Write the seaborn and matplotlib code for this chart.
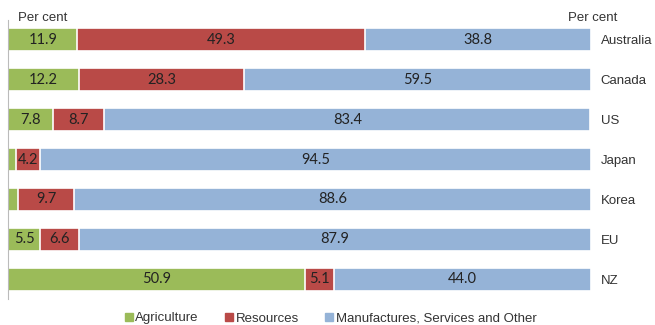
import matplotlib
matplotlib.use("Agg")
import matplotlib.pyplot as plt
import matplotlib.patches as mpatches
import seaborn as sns
import numpy as np
import pandas as pd

countries = ["Australia", "Canada", "US", "Japan", "Korea", "EU", "NZ"]
agriculture = [11.9, 12.2, 7.8, 1.3, 1.7, 5.5, 50.9]
resources = [49.3, 28.3, 8.7, 4.2, 9.7, 6.6, 5.1]
manufactures = [38.8, 59.5, 83.4, 94.5, 88.6, 87.9, 44.0]
series_names = ["Agriculture", "Resources", "Manufactures, Services and Other"]
colors = ["#9BBB59", "#B94A47", "#95B3D7"]

sns.set_theme(style="white")
plt.rcParams["font.family"] = ["Liberation Sans", "DejaVu Sans"]

df = pd.DataFrame({"country": countries, "agri": agriculture,
                   "res": resources, "man": manufactures})
df["c1"] = df["agri"]
df["c2"] = df["agri"] + df["res"]
df["c3"] = df["agri"] + df["res"] + df["man"]

fig = plt.figure(figsize=(6.55, 3.25), dpi=100)
ax = fig.add_axes([8/655, 1 - 299/325, 583/655, 279/325])

for col, c in zip(["c3", "c2", "c1"], colors[::-1]):
    sns.barplot(data=df, x=col, y="country", orient="h", color=c,
                width=0.58, edgecolor="white", linewidth=1.2,
                errorbar=None, saturation=1, ax=ax)

# value labels
for i, row in df.iterrows():
    starts = [0, row["c1"], row["c2"]]
    vals = [row["agri"], row["res"], row["man"]]
    for s, v in zip(starts, vals):
        if v >= 3:
            ax.text(s + v / 2, i, f"{v:.1f}", ha="center", va="center",
                    fontsize=10.5, color="#222222", family=["Lato", "DejaVu Sans"])

ax.set_xlim(0, 100)
ax.set_ylim(6.5, -0.5)
ax.set_xlabel("")
ax.set_ylabel("")
ax.set_xticks([])
ax.yaxis.tick_right()
ax.tick_params(axis="y", length=0, pad=7, labelsize=9.5, labelcolor="#333333")
for s in ["top", "right", "bottom"]:
    ax.spines[s].set_visible(False)
ax.spines["left"].set_color("#BBBBBB")
ax.spines["left"].set_linewidth(0.8)

fig.text(18/655, 1 - 18/325, "Per cent", fontsize=9.5, color="#333333", va="center")
fig.text(568/655, 1 - 18/325, "Per cent", fontsize=9.5, color="#333333", va="center")

handles = [mpatches.Patch(color=c, label=n) for c, n in zip(colors, series_names)]
fig.legend(handles=handles, loc="lower center", bbox_to_anchor=(0.505, -0.035),
           ncol=3, frameon=False, fontsize=9.5, handlelength=0.6, handleheight=0.6,
           handletextpad=0.2, columnspacing=2.0, labelcolor="#333333")

fig.savefig("out.png", dpi=100)
